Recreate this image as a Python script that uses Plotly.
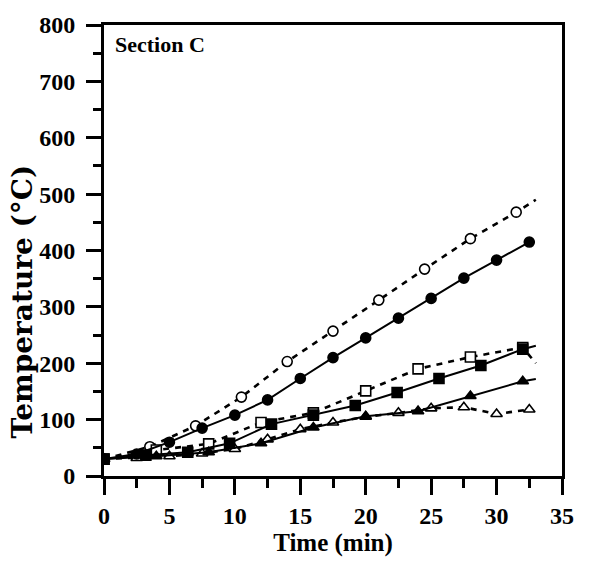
import plotly.graph_objects as go

# Filled circles (solid)
t_fc = [0, 2.5, 5, 7.5, 10, 12.5, 15, 17.5, 20, 22.5, 25, 27.5, 30, 32.5]
T_fc = [30, 39, 60, 85, 108, 135, 173, 210, 245, 280, 315, 351, 383, 415]
# Open circles (dashed)
t_oc = [0, 3.5, 7, 10.5, 14, 17.5, 21, 24.5, 28, 31.5, 33]
T_oc = [30, 52, 89, 140, 203, 257, 312, 367, 421, 468, 490]
# Filled squares (solid)
t_fs = [0, 3.2, 6.4, 9.6, 12.8, 16, 19.2, 22.4, 25.6, 28.8, 32, 33]
T_fs = [30, 37, 42, 58, 92, 108, 125, 148, 173, 196, 225, 231]
# Open squares (dashed)
t_os = [0, 4, 8, 12, 16, 20, 24, 28, 32, 33]
T_os = [30, 46, 57, 95, 112, 151, 190, 211, 228, 200]
# Filled triangles (solid)
t_ft = [0, 4, 8, 12, 16, 20, 24, 28, 32, 33]
T_ft = [30, 35, 42, 58, 86, 106, 115, 142, 168, 172]
# Open triangles (dashed)
t_ot = [0, 2.5, 5, 7.5, 10, 12.5, 15, 17.5, 20, 22.5, 25, 27.5, 30, 32.5]
T_ot = [30, 32, 35, 40, 48, 65, 83, 95, 105, 112, 120, 122, 110, 118]

x_ticks = [0, 5, 10, 15, 20, 25, 30, 35]
y_ticks = [0, 100, 200, 300, 400, 500, 600, 700, 800]

FONT = "Liberation Serif"

fig = go.Figure()


def add(t, T, symbol, filled, dashed, end_marker=True):
    sizes = [10] * len(t)
    if not end_marker:
        sizes[-1] = 0
    fig.add_trace(go.Scatter(
        x=t, y=T, mode="lines+markers",
        line=dict(color="black", width=2.6 if dashed else 2.0,
                  dash="6px,6px" if dashed else "solid"),
        marker=dict(symbol=symbol, size=sizes, opacity=1,
                    color="black" if filled else "white",
                    line=dict(color="black", width=1.6)),
        showlegend=False))


add(t_oc, T_oc, "circle", False, True, end_marker=False)
add(t_os, T_os, "square", False, True, end_marker=False)
add(t_ot, T_ot, "triangle-up", False, True)
add(t_fc, T_fc, "circle", True, False)
add(t_fs, T_fs, "square", True, False, end_marker=False)
add(t_ft, T_ft, "triangle-up", True, False, end_marker=False)

tick_font = dict(family=FONT, size=24, color="black", weight="bold")
title_font = dict(family=FONT, size=25, color="black", weight="bold")

fig.update_xaxes(
    range=[0, 35], tickvals=x_ticks, ticktext=[str(v) for v in x_ticks],
    showline=True, linecolor="black", linewidth=3, mirror=True,
    ticks="outside", ticklen=16, tickwidth=3, tickcolor="black",
    minor=dict(ticks="outside", ticklen=9, tickwidth=3, dtick=2.5, tick0=0, tickcolor="black"),
    showgrid=False, zeroline=False, tickfont=tick_font, ticklabelstandoff=0,
    title=dict(text="Time (min)", font=title_font, standoff=0))
fig.update_yaxes(
    range=[0, 800], tickvals=y_ticks, ticktext=[str(v) for v in y_ticks],
    showline=True, linecolor="black", linewidth=3, mirror=True,
    ticks="outside", ticklen=15, tickwidth=3, tickcolor="black",
    minor=dict(ticks="outside", ticklen=8, tickwidth=3, dtick=50, tick0=0, tickcolor="black"),
    showgrid=False, zeroline=False, tickfont=tick_font, ticklabelstandoff=6)

# y-axis title (placed as rotated annotation)
fig.add_annotation(x=-0.177, y=0.387, xref="paper", yref="paper", xanchor="center", yanchor="middle",
                   text="Temperature (°C)", textangle=-90, showarrow=False,
                   font=dict(family="DejaVu Serif", size=28, color="black", weight="bold"))

fig.add_annotation(x=0.02, y=0.99, xref="paper", yref="paper", xanchor="left", yanchor="top",
                   text="Section C", showarrow=False,
                   font=dict(family=FONT, size=22, color="black", weight="bold"))

fig.update_layout(width=593, height=561, margin=dict(l=104, r=31, t=16, b=85),
                  plot_bgcolor="white", paper_bgcolor="white")

fig.write_html("out.html")
